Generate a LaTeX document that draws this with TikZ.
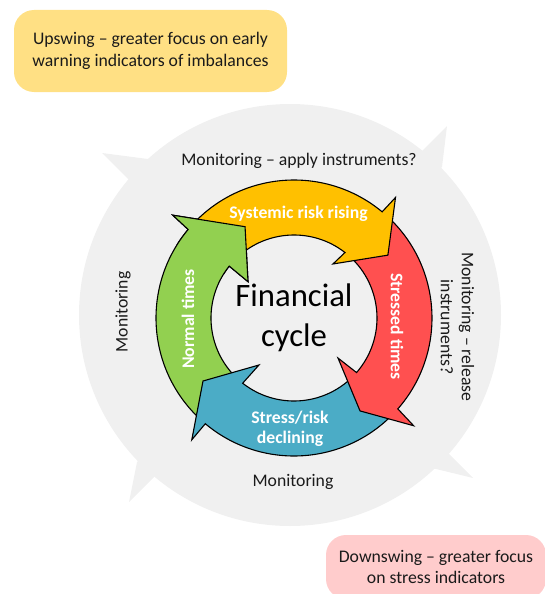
\documentclass[tikz,border=0pt]{standalone}
\usepackage{fontspec}
\setmainfont{Carlito}

\definecolor{callgray}{HTML}{F0F0F0}
\definecolor{risegold}{HTML}{FFC000}
\definecolor{stressred}{HTML}{FF5050}
\definecolor{declineblue}{HTML}{4BACC6}
\definecolor{normalgreen}{HTML}{92D050}
\definecolor{upfill}{HTML}{FFE084}
\definecolor{downfill}{HTML}{FFCCCC}
\definecolor{txtdark}{HTML}{1A1A1A}

\tikzset{
  cyclearrow/.style={draw=black, line width=1.1pt, line join=miter},
  ringlabel/.style={text=white, inner sep=0pt, align=center,
    font=\fontsize{17.7}{20.5}\selectfont\bfseries},
  monlabel/.style={text=txtdark, inner sep=0pt, align=center,
    font=\fontsize{17.7}{21}\selectfont},
  focusbox/.style={rounded corners=20pt, text=txtdark, align=center, inner sep=0pt,
    font=\fontsize{17.7}{22.5}\selectfont}
}

\begin{document}
\begin{tikzpicture}[x=1pt, y=-1pt, line join=round]

  %% ════ 灰色底盘：圆 + 四个尖角 ════
  \fill[callgray] (290,315) circle[radius=211];
  \fill[callgray] (148,159) -- (102,153) -- (128,179) -- (290,315) -- cycle;   % 左上
  \fill[callgray] (422,151) -- (447,126) -- (442,167) -- (290,315) -- cycle;   % 右上
  \fill[callgray] (137,462) -- (129,502) -- (154,477) -- (290,315) -- cycle;   % 左下
  \fill[callgray] (448,453) -- (473,478) -- (432,468) -- (290,315) -- cycle;   % 右下

  %% ════ 四个弧形箭头（极坐标，角度顺时针，圆心 294,318）════
  %% 顺序：绿 → 蓝 → 红 → 黄，最后再补一次绿色箭头头部
  \begin{scope}[shift={(294,318)}]
    \draw[cyclearrow, fill=normalgreen] (133:83) arc[start angle=133, end angle=218.7, radius=83]
      -- (218.3:58.6) -- (241.8:103.6) -- (220.3:159) -- (219.9:138)
      arc[start angle=219.9, end angle=133, radius=138] -- cycle;
    \draw[cyclearrow, fill=declineblue] (45:83) arc[start angle=45, end angle=128.2, radius=83]
      -- (126.7:58.6) -- (145.3:110.7) -- (130:159) -- (130:138)
      arc[start angle=130, end angle=45, radius=138] -- cycle;
    \draw[cyclearrow, fill=stressred] (312:83) arc[start angle=312, end angle=401.1, radius=83]
      -- (402.3:59.5) -- (414.6:114) -- (402:161) -- (401.2:138)
      arc[start angle=401.2, end angle=312, radius=138] -- cycle;
    \draw[cyclearrow, fill=risegold] (224:83) arc[start angle=224, end angle=307.9, radius=83]
      -- (305.8:66.6) -- (326.2:113) -- (310.1:157.6) -- (309.7:138)
      arc[start angle=309.7, end angle=224, radius=138] -- cycle;
    % 绿色箭头头部压在黄色尾巴上
    \begin{scope}
      \clip (0,0) -- (212:220) arc[start angle=212, end angle=262, radius=220] -- cycle;
      \draw[cyclearrow, fill=normalgreen] (133:83) arc[start angle=133, end angle=218.7, radius=83]
        -- (218.3:58.6) -- (241.8:103.6) -- (220.3:159) -- (219.9:138)
        arc[start angle=219.9, end angle=133, radius=138] -- cycle;
    \end{scope}
  \end{scope}

  %% ════ 文字 ════
  \node[inner sep=0pt, align=center, text=black, font=\fontsize{32.7}{40}\selectfont] (fincycle) at (294,318) {Financial\\cycle};

  \node[ringlabel] (risingtxt) at (298.5,214) {Systemic risk rising};
  \node[ringlabel, rotate=-90] (stressedtxt) at (397,326.5) {Stressed times};
  \node[ringlabel] (decliningtxt) at (290,429) {Stress/risk\\declining};
  \node[ringlabel, rotate=90] (normaltxt) at (188,319) {Normal times};

  \node[monlabel] (montop) at (299,161) {Monitoring -- apply instruments?};
  \node[monlabel, rotate=-90] (monright) at (457.5,327) {Monitoring -- release\\instruments?};
  \node[monlabel] (monbottom) at (293,482) {Monitoring};
  \node[monlabel, rotate=90] (monleft) at (123,312) {Monitoring};

  %% ════ 两个说明框 ════
  \node[focusbox, fill=upfill, minimum width=273, minimum height=82] (upswing) at (150.5,51)
    {Upswing -- greater focus on early\\warning indicators of imbalances};
  \node[focusbox, fill=downfill, minimum width=220, minimum height=64, font=\fontsize{17.7}{20.6}\selectfont] (downswing) at (436,567)
    {Downswing -- greater focus\\on stress indicators};

  % 钉死画布
  \pgfresetboundingbox
  \path[use as bounding box] (0,0) rectangle (545,594);
\end{tikzpicture}
\end{document}
